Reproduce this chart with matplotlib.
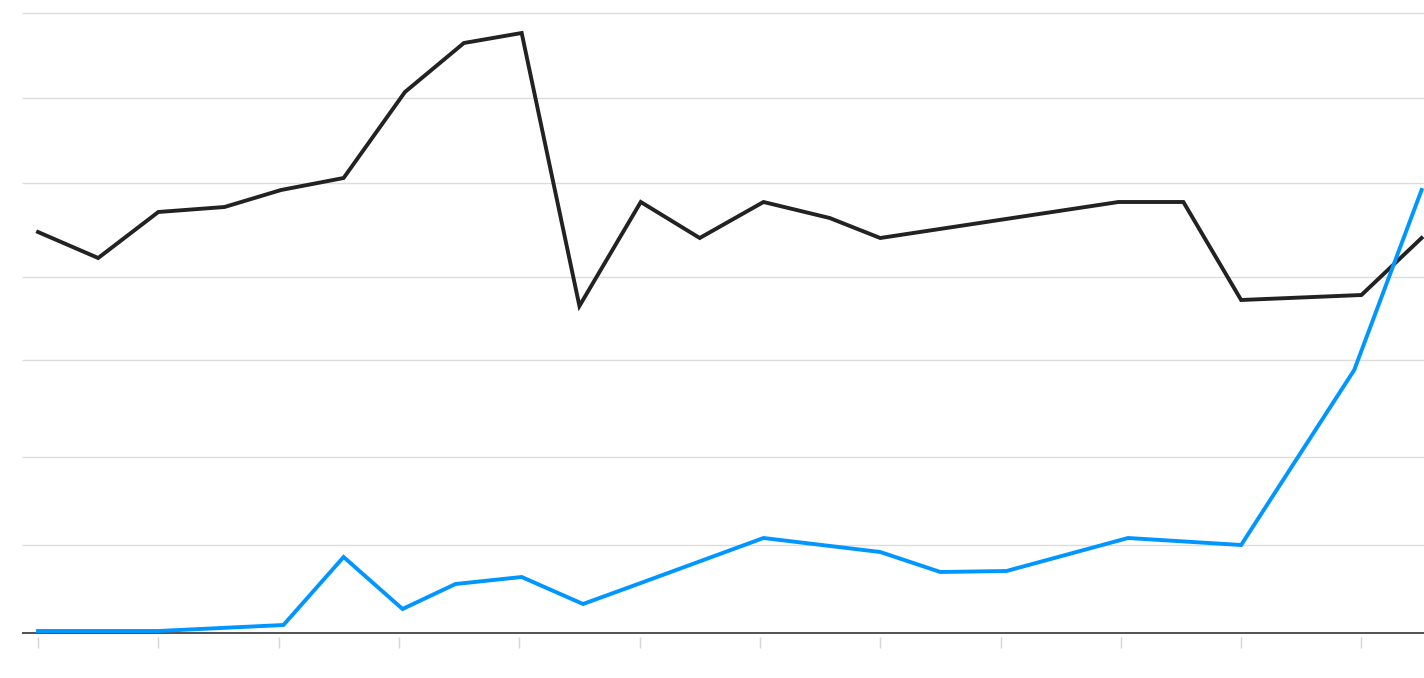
import matplotlib
matplotlib.use("Agg")
import matplotlib.pyplot as plt

# x in tick units (ticks at 0..11), y in chart units
black_x = [0, 0.5, 1, 1.55, 2.02, 2.54, 3.05, 3.54, 4.02, 4.5, 5.01, 5.5,
           6.03, 6.58, 7.0, 8.98, 9.52, 10.0, 11.0, 11.5]
black_y = [401, 375, 421, 426, 443, 455, 541, 590, 600, 327, 431, 395,
           431, 415, 395, 431, 431, 333, 338, 395]

blue_x = [0, 1, 2.04, 2.54, 3.03, 3.47, 4.02, 4.53, 5.01, 6.03, 7.0, 7.5,
          8.05, 9.06, 10.0, 10.94, 11.5]
blue_y = [2, 2, 8, 76, 24, 49, 56, 29, 50, 95, 81, 61,
          62, 95, 88, 263, 443]

grid_y = [88, 176, 273, 356, 450, 535, 620]
tick_x = list(range(12))

fig = plt.figure(figsize=(14.24, 6.78), dpi=100)
ax = fig.add_axes([0, 0, 1, 1])
ax.set_xlim(-0.316, 11.52)
ax.set_ylim(-45, 633)
ax.axis('off')

x0, x1 = -0.133, 11.6
ax.hlines(grid_y, x0, x1, color='#dddddd', lw=1.0, zorder=1)
ax.hlines(0, x0, x1, color='#333333', lw=1.2, zorder=2)
ax.vlines(tick_x, -15, -4, color='#d6d6d6', lw=1.0, zorder=1)

ax.plot(black_x, black_y, color='#222222', lw=2.8, zorder=3,
        solid_joinstyle='miter')
ax.plot(blue_x, blue_y, color='#0096ff', lw=2.8, zorder=4,
        solid_joinstyle='miter')

fig.savefig('out.png', dpi=100)
